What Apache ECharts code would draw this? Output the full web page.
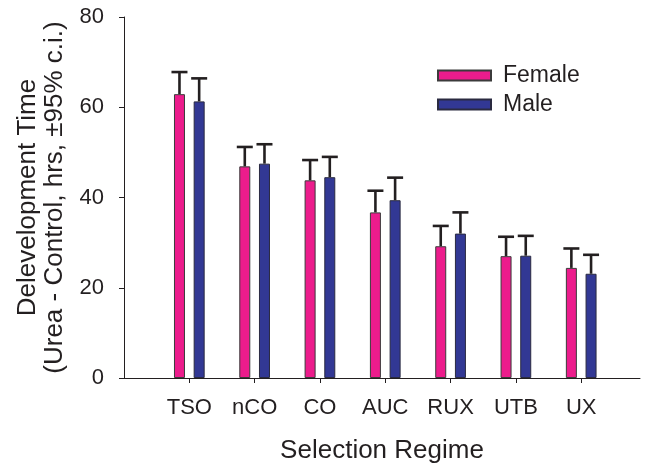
<!DOCTYPE html>
<html>
<head>
<meta charset="utf-8">
<script src="https://cdn.jsdelivr.net/npm/echarts@6/dist/echarts.min.js"></script>
<style>
  html, body { margin: 0; padding: 0; background: #fff; }
  #chart { width: 649px; height: 469px; }
</style>
</head>
<body>
<div id="chart"></div>
<script>
// Selection regimes along the x axis
var categories = ['TSO', 'nCO', 'CO', 'AUC', 'RUX', 'UTB', 'UX'];

// Mean development-time difference (hrs) per regime
var femaleMeans = [62.9, 46.9, 43.8, 36.7, 29.2, 27.0, 24.4];
var maleMeans   = [61.3, 47.5, 44.5, 39.4, 32.0, 27.1, 23.1];

// Upper half-width of the 95% confidence interval (hrs)
var femaleCI = [4.9, 4.3, 4.5, 4.8, 4.5, 4.3, 4.3];
var maleCI   = [5.1, 4.3, 4.5, 5.0, 4.7, 4.4, 4.2];

// Y axis ticks
var yTicks = [0, 20, 40, 60, 80];

var FONT = '"Liberation Sans", Arial, Helvetica, sans-serif';
var TEXT = '#231f20';
var PINK = '#ec1c8c';
var BLUE = '#323894';

var BAR_W = 11;
var BAR_GAP = 0.79; // fraction of bar width
var halfPitch = (BAR_W + BAR_W * BAR_GAP) / 2;

function toPairs(vals) {
  return vals.map(function (v, i) { return [i, v]; });
}
function toTriples(vals, errs) {
  return vals.map(function (v, i) { return [i, v, errs[i]]; });
}

// Upward-only error bar with a cap, centred on its bar
function errorBarRenderer(shift) {
  return function (params, api) {
    var x = api.value(0), v = api.value(1), e = api.value(2);
    var base = api.coord([x, v]);
    var top = api.coord([x, v + e]);
    var cx = base[0] + shift;
    var capHalf = 8;
    var style = { stroke: TEXT, lineWidth: 2.6, fill: null };
    return {
      type: 'group',
      children: [
        { type: 'line', shape: { x1: cx, y1: base[1], x2: cx, y2: top[1] }, style: style },
        { type: 'line', shape: { x1: cx - capHalf, y1: top[1], x2: cx + capHalf, y2: top[1] }, style: style }
      ]
    };
  };
}

var chart = echarts.init(document.getElementById('chart'), null, { renderer: 'canvas' });

chart.setOption({
  backgroundColor: '#ffffff',
  animation: false,
  textStyle: { fontFamily: FONT, color: TEXT },
  grid: { left: 124, right: 9, top: 17, bottom: 86.5, containLabel: false },
  legend: {
    orient: 'vertical',
    left: 437,
    top: 64,
    padding: 0,
    itemWidth: 53,
    itemHeight: 10,
    itemGap: 6,
    icon: 'rect',
    data: ['Female', 'Male'],
    textStyle: { fontFamily: FONT, fontSize: 23, color: TEXT, lineHeight: 22, padding: [0, 0, 0, 7] }
  },
  xAxis: {
    type: 'value',
    min: -1,
    max: 6.9,
    name: 'Selection Regime',
    nameLocation: 'middle',
    nameGap: 60,
    nameTextStyle: { fontFamily: FONT, fontSize: 26, color: TEXT },
    axisLine: { show: true, onZero: false, lineStyle: { color: TEXT, width: 1 } },
    axisTick: {
      show: true, inside: false, length: 5,
      customValues: categories.map(function (c, i) { return i; }),
      lineStyle: { color: TEXT, width: 1 }
    },
    axisLabel: {
      show: true, margin: 19,
      customValues: categories.map(function (c, i) { return i; }),
      formatter: function (v) { return categories[Math.round(v)] || ''; },
      fontFamily: FONT, fontSize: 22, color: TEXT
    },
    splitLine: { show: false }
  },
  yAxis: {
    type: 'value',
    min: 0,
    max: 80,
    interval: 20,
    name: 'Delevelopment Time\n(Urea - Control, hrs, \u00b195% c.i.)',
    nameLocation: 'middle',
    nameGap: 50,
    nameTextStyle: { fontFamily: FONT, fontSize: 26, color: TEXT, lineHeight: 27, align: 'center' },
    axisLine: { show: true, onZero: false, lineStyle: { color: TEXT, width: 1 } },
    axisTick: { show: true, inside: false, length: 5, lineStyle: { color: TEXT, width: 1 } },
    axisLabel: {
      margin: 20, fontFamily: FONT, fontSize: 22, color: TEXT,
      formatter: function (v) { return yTicks.indexOf(v) >= 0 ? String(v) : ''; }
    },
    splitLine: { show: false }
  },
  series: [
    {
      name: 'Female',
      type: 'bar',
      barWidth: BAR_W,
      barGap: (BAR_GAP * 100) + '%',
      data: toPairs(femaleMeans),
      itemStyle: { color: PINK, borderColor: '#3b3b3b', borderWidth: 1 },
      z: 2
    },
    {
      name: 'Male',
      type: 'bar',
      barWidth: BAR_W,
      barGap: (BAR_GAP * 100) + '%',
      data: toPairs(maleMeans),
      itemStyle: { color: BLUE, borderColor: '#2a2a40', borderWidth: 1 },
      z: 2
    },
    {
      name: 'Female CI',
      type: 'custom',
      renderItem: errorBarRenderer(-halfPitch),
      data: toTriples(femaleMeans, femaleCI),
      encode: { x: 0, y: [1, 2] },
      z: 3
    },
    {
      name: 'Male CI',
      type: 'custom',
      renderItem: errorBarRenderer(halfPitch),
      data: toTriples(maleMeans, maleCI),
      encode: { x: 0, y: [1, 2] },
      z: 3
    }
  ]
});
</script>
</body>
</html>
